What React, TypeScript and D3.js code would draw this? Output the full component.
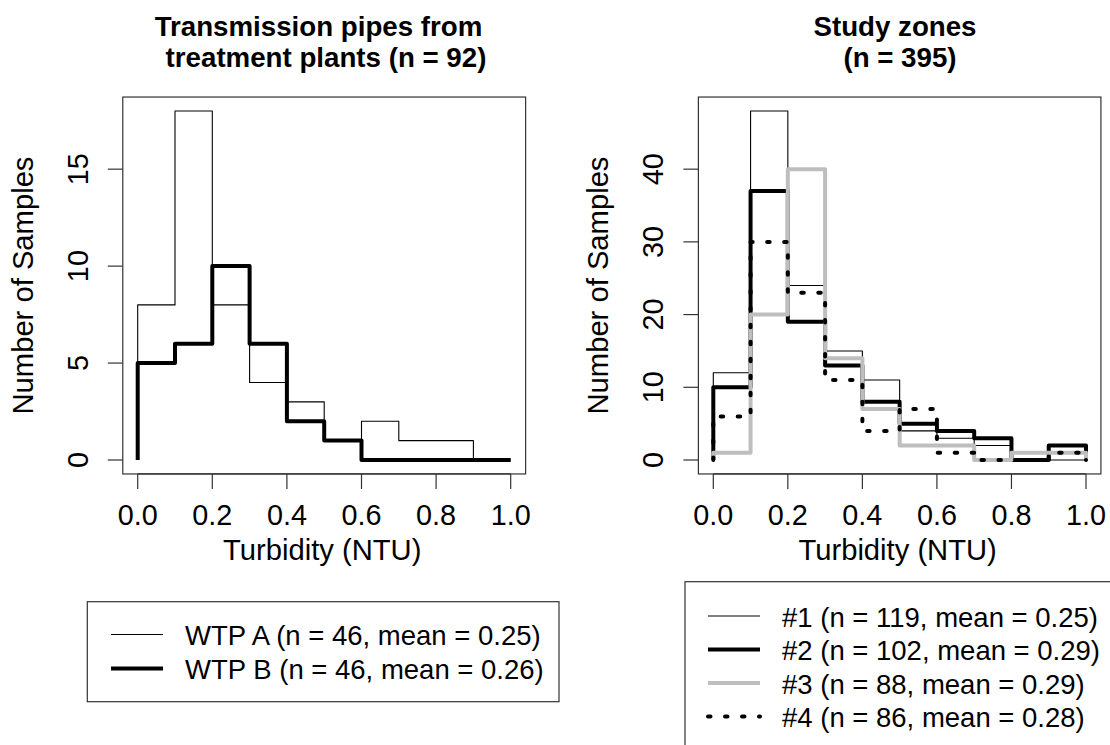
import React from "react";
import * as d3 from "d3";

// Histogram break points (NTU) shared by every series
const breaks = [0, 0.1, 0.2, 0.3, 0.4, 0.5, 0.6, 0.7, 0.8, 0.9, 1.0];
const xTicks = [0, 0.2, 0.4, 0.6, 0.8, 1.0];

// Transmission pipes: counts per 0.1 NTU bin
const wtpA = [8, 18, 8, 4, 3, 1, 2, 1, 1, 0];
const wtpB = [5, 6, 10, 6, 2, 1, 0, 0, 0, 0];
const leftYTicks = [0, 5, 10, 15];
const leftYMax = 18;

// Study zones: counts per 0.1 NTU bin
const zone1 = [12, 48, 24, 15, 11, 4, 3, 2, 0, 0];
const zone2 = [10, 37, 19, 13, 8, 5, 4, 3, 0, 2];
const zone3 = [1, 20, 40, 14, 7, 2, 2, 0, 1, 1];
const zone4 = [6, 30, 23, 11, 4, 7, 1, 0, 0, 1];
const rightYTicks = [0, 10, 20, 30, 40];
const rightYMax = 48;

const leftLabels = ["WTP A (n = 46, mean = 0.25)", "WTP B (n = 46, mean = 0.26)"];
const rightLabels = [
  "#1 (n = 119, mean = 0.25)",
  "#2 (n = 102, mean = 0.29)",
  "#3 (n = 88, mean = 0.29)",
  "#4 (n = 86, mean = 0.28)",
];

const FONT = "'Liberation Sans', Arial, Helvetica, sans-serif";

type LineStyle = { stroke: string; width: number; dash?: string };
const thin: LineStyle = { stroke: "#000", width: 1.1 };
const thick: LineStyle = { stroke: "#000", width: 4 };
const grey: LineStyle = { stroke: "#bebebe", width: 4 };
const dotted: LineStyle = { stroke: "#000", width: 4, dash: "2.5 14.5" };

function stepPath(
  counts: number[],
  x: d3.ScaleLinear<number, number>,
  y: d3.ScaleLinear<number, number>
) {
  const pts: [number, number][] = [[breaks[0], 0]];
  counts.forEach((c, i) => pts.push([breaks[i], c]));
  pts.push([breaks[breaks.length - 1], 0]);
  const line = d3
    .line<[number, number]>()
    .x((d) => x(d[0]))
    .y((d) => y(d[1]))
    .curve(d3.curveStepAfter);
  return line(pts) || "";
}

type PanelProps = {
  x0: number;
  x1: number;
  yMax: number;
  yTicks: number[];
  series: { counts: number[]; style: LineStyle }[];
  title: { text: string; cx: number }[];
};

function Panel({ x0, x1, yMax, yTicks, series, title }: PanelProps) {
  const x = d3.scaleLinear().domain([0, 1]).range([x0, x1]);
  const y = d3.scaleLinear().domain([0, yMax]).range([460, 111]);
  const pad = 0.04;
  const bx0 = x(-pad * 1);
  const bx1 = x(1 + pad);
  const by0 = y(yMax * (1 + pad));
  const by1 = y(-yMax * pad);
  const cx = (bx0 + bx1) / 2;
  const cy = (by0 + by1) / 2;
  return (
    <g>
      {title.map((t, i) => (
        <text
          key={i}
          x={t.cx}
          y={36 + i * 31}
          textAnchor="middle"
          fontFamily={FONT}
          fontWeight="bold"
          fontSize={27.7}
        >
          {t.text}
        </text>
      ))}
      {series.map((s, i) => (
        <path
          key={i}
          d={stepPath(s.counts, x, y)}
          fill="none"
          stroke={s.style.stroke}
          strokeWidth={s.style.width}
          strokeDasharray={s.style.dash}
          strokeLinecap={s.style.dash ? "round" : "butt"}
          strokeLinejoin="round"
        />
      ))}
      <rect
        x={bx0}
        y={by0}
        width={bx1 - bx0}
        height={by1 - by0}
        fill="none"
        stroke="#333"
        strokeWidth={1.2}
      />
      {/* x axis */}
      <line x1={x(0)} x2={x(1)} y1={by1} y2={by1} stroke="#333" strokeWidth={1.2} />
      {xTicks.map((t) => (
        <g key={t}>
          <line x1={x(t)} x2={x(t)} y1={by1} y2={by1 + 15} stroke="#333" strokeWidth={1.2} />
          <text x={x(t)} y={525} textAnchor="middle" fontFamily={FONT} fontSize={28.8}>
            {d3.format(".1f")(t)}
          </text>
        </g>
      ))}
      <text x={cx - 2} y={560} textAnchor="middle" fontFamily={FONT} fontSize={29.2}>
        Turbidity (NTU)
      </text>
      {/* y axis */}
      {yTicks.map((t) => (
        <g key={t}>
          <line x1={bx0 - 15} x2={bx0} y1={y(t)} y2={y(t)} stroke="#333" strokeWidth={1.2} />
          <text
            transform={`translate(${bx0 - 35},${y(t)}) rotate(-90)`}
            textAnchor="middle"
            fontFamily={FONT}
            fontSize={28.8}
          >
            {t}
          </text>
        </g>
      ))}
      <text
        transform={`translate(${bx0 - 90},${cy}) rotate(-90)`}
        textAnchor="middle"
        fontFamily={FONT}
        fontSize={29.2}
      >
        Number of Samples
      </text>
    </g>
  );
}

function LegendRow({ x, y, style, label }: { x: number; y: number; style: LineStyle; label: string }) {
  return (
    <g>
      <line
        x1={x}
        x2={x + 52}
        y1={y}
        y2={y}
        stroke={style.stroke}
        strokeWidth={style.width}
        strokeDasharray={style.dash}
        strokeLinecap={style.dash ? "round" : "butt"}
      />
      <text x={x + 74} y={y + 10.5} fontFamily={FONT} fontSize={27.5}>
        {label}
      </text>
    </g>
  );
}

export default function App() {
  return (
    <svg
      width={1110}
      height={745}
      style={{ position: "absolute", left: 0, top: 0, background: "#fff" }}
    >
      <rect width={1110} height={745} fill="#fff" />
      <Panel
        x0={137.7}
        x1={510.7}
        yMax={leftYMax}
        yTicks={leftYTicks}
        series={[
          { counts: wtpA, style: thin },
          { counts: wtpB, style: thick },
        ]}
        title={[
          { text: "Transmission pipes from", cx: 318.5 },
          { text: "treatment plants (n = 92)", cx: 326 },
        ]}
      />
      <Panel
        x0={713.3}
        x1={1086}
        yMax={rightYMax}
        yTicks={rightYTicks}
        series={[
          { counts: zone1, style: thin },
          { counts: zone2, style: thick },
          { counts: zone3, style: grey },
          { counts: zone4, style: dotted },
        ]}
        title={[
          { text: "Study zones", cx: 895 },
          { text: "(n = 395)", cx: 900 },
        ]}
      />
      {/* legends */}
      <rect x={87.3} y={601.7} width={471.7} height={100} fill="none" stroke="#333" strokeWidth={1.2} />
      {leftLabels.map((l, i) => (
        <LegendRow key={l} x={111} y={634.5 + i * 34} style={i === 0 ? thin : thick} label={l} />
      ))}
      <rect x={685} y={581.7} width={440} height={200} fill="none" stroke="#333" strokeWidth={1.2} />
      {rightLabels.map((l, i) => (
        <LegendRow
          key={l}
          x={708}
          y={616 + i * 33.5}
          style={[thin, thick, grey, dotted][i]}
          label={l}
        />
      ))}
    </svg>
  );
}
